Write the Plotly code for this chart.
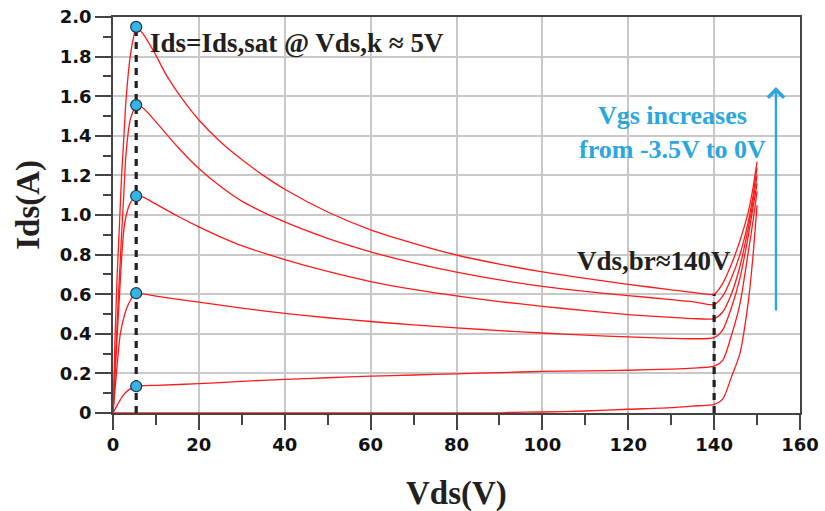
import plotly.graph_objects as go

# ---------------- data ----------------
vds_a = [0, 0.5, 1, 1.5, 2, 2.5, 3, 4, 5, 5.4, 7, 9.4, 12.6, 16, 20, 25, 30, 35, 40, 50, 60,
         70, 80, 90, 100, 110, 120, 130, 135, 140, 142, 144, 146, 148, 149, 150]
ids_a = [0, 0.4, 0.71, 0.95, 1.2, 1.38, 1.57, 1.8, 1.92, 1.95, 1.915, 1.83, 1.70, 1.59, 1.48,
         1.37, 1.28, 1.20, 1.13, 1.015, 0.925, 0.857, 0.798, 0.752, 0.713, 0.68, 0.65, 0.622,
         0.609, 0.60, 0.655, 0.75, 0.87, 1.02, 1.13, 1.27]

vds_b = [0, 1, 1.5, 2, 2.5, 3, 4, 5, 5.4, 7, 10, 15, 20, 25, 30, 40, 50, 60, 70, 80, 90,
         100, 110, 120, 130, 135, 140, 142, 144, 146, 148, 149, 150]
ids_b = [0, 0.47, 0.69, 0.9, 1.1, 1.3, 1.48, 1.54, 1.555, 1.54, 1.47, 1.345, 1.235, 1.145,
         1.07, 0.965, 0.882, 0.814, 0.758, 0.711, 0.672, 0.64, 0.614, 0.593, 0.573, 0.562,
         0.547, 0.59, 0.68, 0.80, 0.97, 1.09, 1.24]

vds_c = [0, 1, 1.5, 2, 2.5, 3, 4, 5.4, 7, 10, 15, 20, 25, 30, 40, 50, 60, 70, 80, 90, 100,
         110, 120, 130, 135, 140, 142, 144, 146, 148, 149, 150]
ids_c = [0, 0.4, 0.59, 0.78, 0.92, 0.99, 1.06, 1.096, 1.09, 1.055, 0.995, 0.94, 0.89, 0.845,
         0.775, 0.715, 0.664, 0.624, 0.591, 0.563, 0.539, 0.517, 0.497, 0.483, 0.477, 0.477,
         0.51, 0.60, 0.74, 0.94, 1.06, 1.20]

vds_d = [0, 1, 1.7, 2.5, 3.3, 4.8, 5.4, 10, 20, 30, 40, 50, 60, 70, 80, 90, 100, 110, 120,
         130, 135, 140, 142, 144, 146, 148, 149, 150]
ids_d = [0, 0.25, 0.40, 0.48, 0.535, 0.594, 0.605, 0.59, 0.56, 0.53, 0.503, 0.481, 0.462,
         0.445, 0.43, 0.416, 0.404, 0.393, 0.384, 0.377, 0.375, 0.381, 0.42, 0.53, 0.68,
         0.90, 1.03, 1.16]

vds_e = [0, 1, 2, 3, 4, 5.4, 7, 10, 20, 30, 40, 50, 60, 70, 80, 90, 100, 110, 120, 130,
         135, 140, 142, 144, 146, 148, 149, 150]
ids_e = [0, 0.04, 0.078, 0.105, 0.122, 0.135, 0.138, 0.14, 0.148, 0.16, 0.17, 0.178, 0.186,
         0.192, 0.198, 0.204, 0.21, 0.213, 0.216, 0.222, 0.227, 0.237, 0.266, 0.39, 0.55,
         0.82, 0.96, 1.12]

vds_f = [0, 90, 92, 100, 110, 120, 130, 135, 140, 142, 144, 146, 148, 149, 150]
ids_f = [0, 0, 0.003, 0.005, 0.01, 0.019, 0.027, 0.035, 0.044, 0.07, 0.18, 0.30, 0.57,
         0.78, 1.05]

curves = [(vds_a, ids_a), (vds_b, ids_b), (vds_c, ids_c), (vds_d, ids_d),
          (vds_e, ids_e), (vds_f, ids_f)]

vds_k = 5.4          # knee voltage
vds_br = 140         # breakdown voltage
ids_sat = [1.95, 1.555, 1.096, 0.605, 0.135]
ids_at_br = 0.60

x_tickvals = [0, 20, 40, 60, 80, 100, 120, 140, 160]
x_ticktext = ["0", "20", "40", "60", "80", "100", "120", "140", "160"]
y_tickvals = [0, 0.2, 0.4, 0.6, 0.8, 1.0, 1.2, 1.4, 1.6, 1.8, 2.0]
y_ticktext = ["0", "0.2", "0.4", "0.6", "0.8", "1.0", "1.2", "1.4", "1.6", "1.8", "2.0"]

# ---------------- figure ----------------
RED = "#FF1A1A"
BLUE = "#2AA7DF"
DARK = "#231F20"
AX = "#444444"

fig = go.Figure()
for vx, iy in curves:
    fig.add_trace(go.Scatter(x=vx, y=iy, mode="lines",
                             line=dict(color=RED, width=1.3, shape="spline", smoothing=0.7),
                             hoverinfo="skip", showlegend=False))

# dashed guide lines
fig.add_trace(go.Scatter(x=[vds_k, vds_k], y=[0, max(ids_sat)], mode="lines",
                         line=dict(color=DARK, width=3.2, dash="7px,6px"),
                         hoverinfo="skip", showlegend=False))
fig.add_trace(go.Scatter(x=[vds_br, vds_br], y=[0, ids_at_br], mode="lines",
                         line=dict(color=DARK, width=3.2, dash="7px,6px"),
                         hoverinfo="skip", showlegend=False))

# knee markers
fig.add_trace(go.Scatter(x=[vds_k] * len(ids_sat), y=ids_sat, mode="markers",
                         marker=dict(size=11, color="#33B5E8",
                                     line=dict(color="#1F3340", width=1.2)),
                         hoverinfo="skip", showlegend=False))

serif = "Liberation Serif"
fig.add_annotation(x=8.2, y=1.867, xref="x", yref="y", xanchor="left", yanchor="middle",
                   text="Ids=Ids,sat @ Vds,k ≈ 5V", showarrow=False,
                   font=dict(family=serif, size=27, color=DARK, weight="bold"))
fig.add_annotation(x=125.9, y=0.77, xref="x", yref="y", xanchor="center", yanchor="middle",
                   text="Vds,br≈140V", showarrow=False,
                   font=dict(family=serif, size=27, color=DARK, weight="bold"))
fig.add_annotation(x=130.2, y=1.415, xref="x", yref="y", xanchor="center", yanchor="middle",
                   text="Vgs increases<br>from -3.5V to 0V", showarrow=False, align="center",
                   font=dict(family=serif, size=26, color=BLUE, weight="bold"))
# arrow
fig.add_annotation(x=154.4, y=1.646, ax=154.4, ay=0.51, xref="x", yref="y",
                   axref="x", ayref="y", text="", showarrow=True,
                   arrowhead=4, arrowsize=1.3, arrowwidth=2.4, arrowcolor=BLUE,
                   standoff=0, startstandoff=0)

# axis titles
fig.add_annotation(x=-0.123, y=0.527, xref="paper", yref="paper", text="Ids(A)",
                   textangle=-90, showarrow=False, xanchor="center", yanchor="middle",
                   font=dict(family=serif, size=33, color=DARK, weight="bold"))
fig.add_annotation(x=0.5, y=-0.203, xref="paper", yref="paper", text="Vds(V)",
                   showarrow=False, xanchor="center", yanchor="middle",
                   font=dict(family=serif, size=33, color=DARK, weight="bold"))

tickfont = dict(family="DejaVu Sans", size=18, color="#111111", weight="bold")
fig.update_xaxes(range=[0, 160], tickmode="array", tickvals=x_tickvals, ticktext=x_ticktext,
                 ticks="outside", ticklen=15, tickwidth=1.5, tickcolor=AX, automargin=False,
                 showline=True, linecolor=AX, linewidth=1.5, mirror=True,
                 showgrid=True, gridcolor="#C8C8C8", gridwidth=1.5, zeroline=False,
                 tickfont=tickfont,
                 minor=dict(tickmode="linear", tick0=0, dtick=10, ticks="outside",
                            ticklen=10, tickwidth=1.5, tickcolor=AX, showgrid=False))
fig.update_yaxes(range=[0, 2.0], tickmode="array", tickvals=y_tickvals, ticktext=y_ticktext,
                 ticks="outside", ticklen=16, tickwidth=1.5, tickcolor=AX, automargin=False,
                 showline=True, linecolor=AX, linewidth=1.5, mirror=True,
                 showgrid=True, gridcolor="#C8C8C8", gridwidth=1.5, zeroline=False,
                 tickfont=tickfont,
                 minor=dict(tickmode="linear", tick0=0, dtick=0.1, ticks="outside",
                            ticklen=8, tickwidth=1.5, tickcolor=AX, showgrid=False))

fig.update_layout(width=825, height=511, margin=dict(l=113, r=25, t=17, b=98),
                  paper_bgcolor="white", plot_bgcolor="white", showlegend=False)

fig.write_html("out.html")
